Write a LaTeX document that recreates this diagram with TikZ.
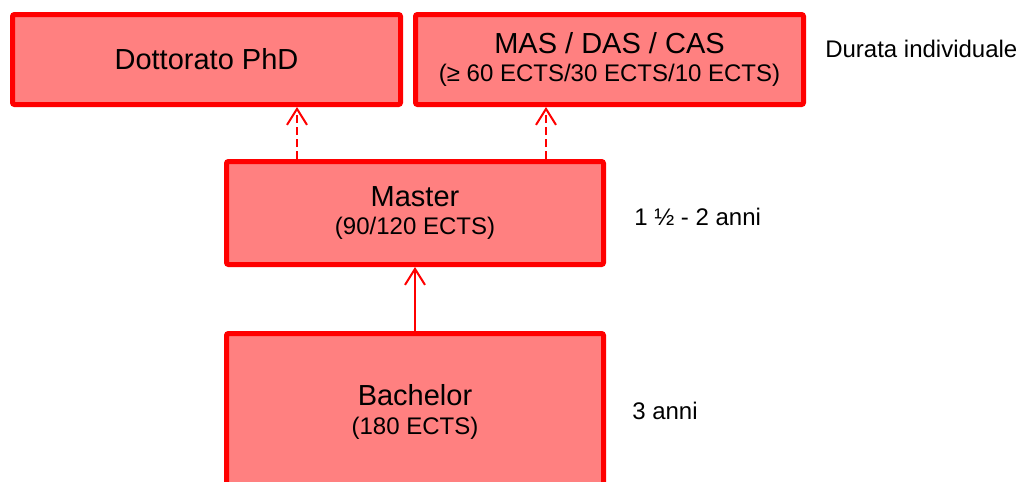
\documentclass[tikz,border=0pt]{standalone}
\usepackage{fontspec}
\setmainfont{Liberation Sans}
\usetikzlibrary{arrows.meta,calc}
\definecolor{boxfill}{RGB}{255,128,128}
\newcommand{\ttlfnt}{\fontsize{21.75}{21.5}\selectfont}
\newcommand{\subfnt}{\fontsize{18}{21.5}\selectfont}

\begin{document}
\begin{tikzpicture}[x=0.75pt,y=-0.75pt,
  box/.style={rectangle,draw=red,fill=boxfill,line width=3.75pt,rounded corners=1.5pt,inner sep=0pt,align=center,font=\ttlfnt},
  lbl/.style={anchor=base west,inner sep=0pt,font=\subfnt},
  arr/.style={red,line width=1.5pt,-{Straight Barb[length=12pt,width=15pt]}}]
\clip (0,0) rectangle (1018,482);
\node[box,minimum width=291pt,minimum height=67.5pt] (phd) at (206.5,59.5) {Dottorato PhD};
\node[box,minimum width=291pt,minimum height=67.5pt] (mas) at (609.5,59.5) {MAS / DAS / CAS\\\subfnt (≥ 60 ECTS/30 ECTS/10 ECTS)};
\node[box,minimum width=282.75pt,minimum height=77.25pt] (ma) at (415,213) {Master\\\subfnt (90/120 ECTS)};
\node[box,minimum width=282.75pt,minimum height=117.75pt] (ba) at (415,412) {Bachelor\\\subfnt (180 ECTS)};
\node[lbl] (d1) at (825,57) {Durata individuale};
\node[lbl] (d2) at (634,225) {1 ½ - 2 anni};
\node[lbl] (d3) at (632,419) {3 anni};
\coordinate (a1) at ($(ma.north)+(-118,0)$);
\coordinate (a2) at ($(ma.north)+(131,0)$);
\draw[arr]  (ba) -- (ma);
\draw[arr,dash pattern=on 6pt off 3pt]  (a1) -- (a1 |- phd.south);
\draw[arr,dash pattern=on 6pt off 3pt]  (a2) -- (a2 |- mas.south);
\end{tikzpicture}
\end{document}
